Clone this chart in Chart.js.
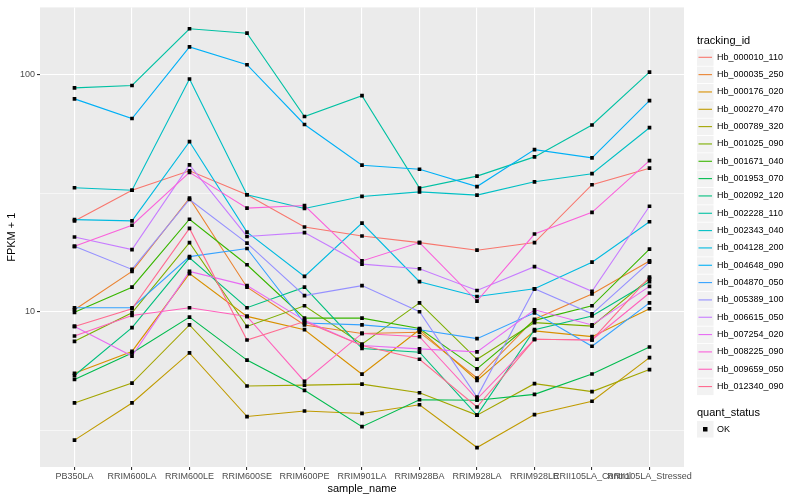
<!DOCTYPE html>
<html>
<head>
<meta charset="utf-8">
<script src="https://cdn.jsdelivr.net/npm/chart.js@4.4.1/dist/chart.umd.min.js"></script>
<style>
  html, body { margin: 0; padding: 0; background: #fff; }
  #wrap { width: 800px; height: 500px; }
</style>
</head>
<body>
<div id="wrap"><canvas id="chart" width="800" height="500"></canvas></div>
<script>
// categories
const samples = ['PB350LA', 'RRIM600LA', 'RRIM600LE', 'RRIM600SE', 'RRIM600PE', 'RRIM901LA',
  'RRIM928BA', 'RRIM928LA', 'RRIM928LE', 'RRII105LA_Control', 'RRII105LA_Stressed'];

const trackingIds = ['Hb_000010_110', 'Hb_000035_250', 'Hb_000176_020', 'Hb_000270_470', 'Hb_000789_320',
  'Hb_001025_090', 'Hb_001671_040', 'Hb_001953_070', 'Hb_002092_120', 'Hb_002228_110',
  'Hb_002343_040', 'Hb_004128_200', 'Hb_004648_090', 'Hb_004870_050', 'Hb_005389_100',
  'Hb_006615_050', 'Hb_007254_020', 'Hb_008225_090', 'Hb_009659_050', 'Hb_012340_090'];

// ggplot hue palette, 20 levels
const colors = ['#F8766D', '#EA8331', '#D89000', '#C09B00', '#A3A500', '#7CAE00', '#39B600', '#00BB4E',
  '#00BF7D', '#00C1A3', '#00BFC4', '#00BAE0', '#00B0F6', '#35A2FF', '#9590FF', '#C77CFF',
  '#E76BF3', '#FA62DB', '#FF62BC', '#FF6C91'];

// FPKM + 1 per sample
const hb000010 = [24.2, 32.6, 39.4, 31.2, 22.8, 20.9, 19.6, 18.2, 19.6, 34.4, 40.4];
const hb000035 = [10.2, 14.8, 30.2, 12.7, 8.8, 8.1, 8.2, 5.25, 9.3, 11.9, 16.4];
const hb000176 = [5.5, 6.8, 14.5, 9.56, 8.4, 5.45, 8.4, 5.13, 8.3, 7.85, 10.3];
const hb000270 = [2.87, 4.12, 6.7, 3.61, 3.81, 3.72, 4.05, 2.67, 3.68, 4.19, 6.4];
const hb000789 = [4.12, 5.0, 8.8, 4.86, 4.9, 4.95, 4.55, 3.66, 4.97, 4.6, 5.7];
const hb001025 = [7.5, 9.9, 19.6, 8.67, 10.6, 7.3, 10.9, 6.3, 9.0, 8.7, 13.8];
const hb001671 = [9.95, 12.7, 24.6, 15.8, 9.4, 9.4, 8.5, 5.74, 9.2, 10.6, 18.4];
const hb001953 = [5.18, 6.7, 9.5, 6.25, 4.66, 3.27, 4.25, 4.23, 4.48, 5.46, 7.1];
const hb002092 = [5.38, 8.57, 16.9, 10.4, 12.7, 7.0, 6.75, 3.66, 8.4, 9.6, 13.4];
const hb002228 = [88.2, 90.3, 156.8, 150.2, 66.8, 81.8, 33.3, 37.4, 45.1, 61.5, 102.9];
const hb002343 = [33.4, 32.6, 96.2, 31.2, 27.3, 30.7, 32.1, 31.1, 35.4, 38.3, 59.9];
const hb004128 = [24.5, 24.2, 52.3, 21.7, 14.1, 23.7, 13.4, 11.6, 12.5, 16.2, 24.0];
const hb004648 = [79.3, 65.5, 131.5, 110.5, 61.8, 41.6, 40.0, 33.8, 48.4, 44.7, 78.0];
const hb004870 = [10.4, 10.4, 17.1, 18.5, 8.96, 8.8, 8.4, 7.7, 9.9, 7.15, 10.9];
const hb005389 = [18.9, 15.1, 29.8, 19.5, 11.7, 12.9, 10.0, 4.36, 12.5, 9.8, 16.2];
const hb006615 = [20.7, 18.3, 41.7, 20.8, 21.6, 15.9, 15.2, 12.3, 15.5, 12.2, 27.9];
const hb007254 = [8.67, 6.5, 14.8, 12.9, 9.2, 7.2, 6.97, 6.77, 10.2, 8.8, 12.8];
const hb008225 = [18.9, 23.2, 38.8, 27.4, 28.1, 16.4, 19.6, 11.1, 21.3, 26.3, 43.5];
const hb009659 = [7.9, 9.65, 10.4, 9.56, 5.08, 8.1, 7.85, 4.28, 7.65, 7.6, 12.0];
const hb012340 = [8.67, 10.3, 22.5, 7.6, 9.1, 7.2, 6.3, 3.96, 7.65, 7.6, 14.0];

const seriesValues = [hb000010, hb000035, hb000176, hb000270, hb000789, hb001025, hb001671,
  hb001953, hb002092, hb002228, hb002343, hb004128, hb004648, hb004870, hb005389, hb006615,
  hb007254, hb008225, hb009659, hb012340];

// y axis breaks
const yMajor = [10, 100];
const yMinor = [3.1623, 31.623];

const textFont = '"Liberation Sans", Arial, Helvetica, sans-serif';
Chart.defaults.font.family = textFont;

// panel background, axis titles and ggplot-style legends
const ggplotLook = {
  id: 'ggplotLook',
  beforeDraw(chart) {
    const { ctx, chartArea: a } = chart;
    ctx.save();
    ctx.fillStyle = '#EBEBEB';
    ctx.fillRect(a.left, a.top, a.right - a.left, a.bottom - a.top);
    ctx.restore();
  },
  afterDraw(chart) {
    const { ctx, chartArea: a } = chart;
    ctx.save();
    ctx.fillStyle = '#000';
    ctx.font = '11px ' + textFont;
    ctx.textAlign = 'center';
    ctx.textBaseline = 'middle';
    ctx.fillText('sample_name', (a.left + a.right) / 2, 488.5);

    ctx.save();
    ctx.translate(12, (a.top + a.bottom) / 2);
    ctx.rotate(-Math.PI / 2);
    ctx.fillText('FPKM + 1', 0, 0);
    ctx.restore();

    // tracking_id legend
    const lx = 697;
    ctx.textAlign = 'left';
    ctx.fillText('tracking_id', lx, 40.5);
    const rowH = 17.33;
    ctx.font = '9px ' + textFont;
    trackingIds.forEach((id, i) => {
      const cy = 57.3 + i * rowH;
      ctx.fillStyle = '#F2F2F2';
      ctx.fillRect(lx, cy - 8, 16.5, 16.5);
      ctx.strokeStyle = colors[i];
      ctx.lineWidth = 1.1;
      ctx.beginPath();
      ctx.moveTo(lx + 1.5, cy);
      ctx.lineTo(lx + 15, cy);
      ctx.stroke();
      ctx.fillStyle = '#000';
      ctx.fillText(id, 717, cy);
    });

    // quant_status legend
    ctx.font = '11px ' + textFont;
    ctx.fillText('quant_status', lx, 412.7);
    ctx.fillStyle = '#F2F2F2';
    ctx.fillRect(lx, 421, 16.5, 16.5);
    ctx.fillStyle = '#000';
    ctx.fillRect(lx + 6, 427, 4.5, 4.5);
    ctx.font = '9px ' + textFont;
    ctx.fillText('OK', 717, 429.5);
    ctx.restore();
  }
};

const lineSets = seriesValues.map((vals, i) => ({
  type: 'line',
  label: trackingIds[i],
  data: vals.map((v, j) => ({ x: j, y: v })),
  borderColor: colors[i],
  backgroundColor: colors[i],
  borderWidth: 1.1,
  pointRadius: 0,
  tension: 0,
  fill: false,
  order: seriesValues.length - i
}));

// all points drawn on top of all lines
const pointSet = {
  type: 'scatter',
  label: 'OK',
  data: seriesValues.flatMap(vals => vals.map((v, j) => ({ x: j, y: v }))),
  pointStyle: 'rect',
  pointRadius: 2.6,
  backgroundColor: '#000',
  borderColor: '#000',
  borderWidth: 0,
  showLine: false,
  order: 0
};

new Chart(document.getElementById('chart').getContext('2d'), {
  type: 'line',
  data: { datasets: [pointSet, ...lineSets] },
  options: {
    responsive: false,
    animation: false,
    events: [],
    layout: { padding: { top: 5, right: 116, left: 0, bottom: 0 } },
    plugins: {
      legend: { display: false },
      tooltip: { enabled: false }
    },
    scales: {
      x: {
        type: 'linear',
        min: -0.6,
        max: 10.6,
        afterBuildTicks: s => { s.ticks = samples.map((_, i) => ({ value: i })); },
        afterFit: s => { s.height = 33; },
        ticks: {
          callback: v => samples[v],
          autoSkip: false,
          maxRotation: 0,
          minRotation: 0,
          color: '#4D4D4D',
          font: { size: 9 },
          padding: 1
        },
        grid: { color: '#FFFFFF', lineWidth: 1.1, tickLength: 3, tickColor: '#333333' },
        border: { display: false }
      },
      y: {
        type: 'logarithmic',
        min: 2.21,
        max: 193,
        afterBuildTicks: s => {
          s.ticks = yMinor.concat(yMajor).sort((p, q) => p - q).map(v => ({ value: v }));
        },
        afterFit: s => { s.width = 40; },
        ticks: {
          callback: v => (yMajor.includes(v) ? String(v) : ''),
          color: '#4D4D4D',
          font: { size: 9 },
          padding: 2
        },
        grid: {
          color: '#FFFFFF',
          lineWidth: c => (c.tick && yMajor.includes(c.tick.value) ? 1.1 : 0.55),
          tickLength: 3,
          tickColor: c => (c.tick && yMajor.includes(c.tick.value) ? '#333333' : 'rgba(0,0,0,0)')
        },
        border: { display: false }
      }
    }
  },
  plugins: [ggplotLook]
});
</script>
</body>
</html>
